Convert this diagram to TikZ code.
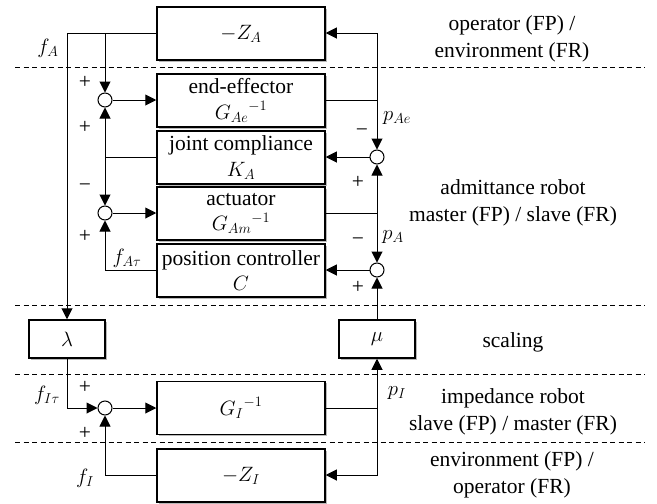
\documentclass[tikz,border=0pt]{standalone}
\usepackage{amsmath}
\usepackage{fontspec}
\setmainfont{Liberation Serif}
\usetikzlibrary{arrows.meta,shadows}
\begin{document}
\begin{tikzpicture}[x=1pt,y=-1pt,
  font=\fontsize{21.5}{25.5}\selectfont,
  blk/.style={draw,line width=1.5pt,fill=white,minimum width=168pt,minimum height=53pt,inner sep=0pt,align=center,
     drop shadow={shadow xshift=1.5pt,shadow yshift=-1.5pt,fill=gray!55,opacity=1}},
  sblk/.style={blk,minimum width=76pt,minimum height=38pt},
  sumc/.style={draw,circle,line width=1pt,fill=white,minimum size=14pt,inner sep=0pt},
  arr/.style={-{Triangle[length=11pt,width=11pt]},line width=1pt},
  ln/.style={line width=1pt},
  sep/.style={dash pattern=on 5pt off 3.5pt,line width=0.8pt},
  lbl/.style={inner sep=0pt},
  side/.style={align=center,inner sep=0pt,font=\fontsize{21.5}{27}\selectfont}]
\useasboundingbox (0,0) rectangle (657,504);
% separators
\draw[sep] (15,67.5) -- (645,67.5);
\draw[sep] (15,305) -- (645,305);
\draw[sep] (15,374) -- (645,374);
\draw[sep] (15,442) -- (645,442);
% blocks
\node[blk] (ZA) at (241,33.5) {$-Z_A$};
\node[blk] (ee) at (241,100.5) {end-effector\\ ${G_{Ae}}^{-1}$};
\node[blk] (jc) at (241,157.5) {joint compliance\\ $K_A$};
\node[blk] (act) at (241,213.5) {actuator\\ ${G_{Am}}^{-1}$};
\node[blk] (pc) at (241,270.5) {position controller\\ $C$};
\node[sblk] (lam) at (67,339) {$\lambda$};
\node[sblk] (mu) at (377,339) {$\mu$};
\node[blk] (GI) at (241,408) {${G_I}^{-1}$};
\node[blk] (ZI) at (241,475.5) {$-Z_I$};
% summing junctions
\node[sumc] (s1) at (105,100) {};
\node[sumc] (s2) at (105,213) {};
\node[sumc] (s3) at (377,157) {};
\node[sumc] (s4) at (377,270) {};
\node[sumc] (s5) at (105,408) {};
% coordinates
\coordinate (ltop) at (67,33);
\coordinate (rtop) at (377,33);
\coordinate (j1) at (105,33);
\coordinate (j2) at (105,157);
\coordinate (j3) at (377,100);
\coordinate (j4) at (377,213);
\coordinate (j5) at (377,408);
% left side
\draw[ln] (ZA.west |- ltop) -- (ltop);
\draw[arr] (ltop) -- (lam.north);
\draw[arr] (j1) -- (s1.north);
\draw[ln] (jc.west |- j2) -- (j2);
\draw[arr] (j2) -- (s1.south);
\draw[arr] (j2) -- (s2.north);
\draw[arr] (pc.west |- s4) -| (s2.south);
\draw[arr] (s1) -- (ee.west |- s1);
\draw[arr] (s2) -- (act.west |- s2);
% right side
\draw[arr] (rtop) -- (ZA.east |- rtop);
\draw[arr] (rtop) -- (s3.north);
\draw[ln] (ee.east |- j3) -- (j3);
\draw[arr] (s3) -- (jc.east |- s3);
\draw[ln] (act.east |- j4) -- (j4);
\draw[arr] (j4) -- (s3.south);
\draw[arr] (j4) -- (s4.north);
\draw[arr] (s4) -- (pc.east |- s4);
\draw[arr] (mu.north) -- (s4.south);
% bottom
\draw[arr] (lam.south) |- (s5.west);
\draw[arr] (s5) -- (GI.west |- s5);
\draw[ln] (GI.east |- j5) -- (j5);
\draw[arr] (j5) -- (mu.south);
\draw[arr] (j5) |- (ZI.east |- 0,475);
\draw[arr] (ZI.west |- 0,475) -| (s5.south);
% signal labels
\node[lbl] (lfA) at (48,48) {$f_A$};
\node[lbl] (p1) at (85,82) {+};
\node[lbl] (p2) at (85,127) {+};
\node[lbl] (m1) at (85,188) {−};
\node[lbl] (p3) at (85,236) {+};
\node[lbl] (lfAt) at (127,258) {$f_{A\tau}$};
\node[lbl] (m2) at (362,133) {−};
\node[lbl] (lpAe) at (397,118) {$p_{Ae}$};
\node[lbl] (p4) at (358,182) {+};
\node[lbl] (m3) at (358,242) {−};
\node[lbl] (lpA) at (393,237) {$p_A$};
\node[lbl] (p5) at (358,287) {+};
\node[lbl] (lfIt) at (47,395) {$f_{I\tau}$};
\node[lbl] (p6) at (85,387) {+};
\node[lbl] (p7) at (85,433) {+};
\node[lbl] (lfI) at (85,478) {$f_I$};
\node[lbl] (lpI) at (397,393) {$p_I$};
% side texts
\node[side] (t1) at (512,39) {operator (FP) /\\ environment (FR)};
\node[side] (t2) at (513,202.5) {admittance robot\\ master (FP) / slave (FR)};
\node[side] (t3) at (513,342) {scaling};
\node[side] (t4) at (513,411.5) {impedance robot\\ slave (FP) / master (FR)};
\node[side] (t5) at (512,475) {environment (FP) /\\ operator (FR)};
\end{tikzpicture}
\end{document}
